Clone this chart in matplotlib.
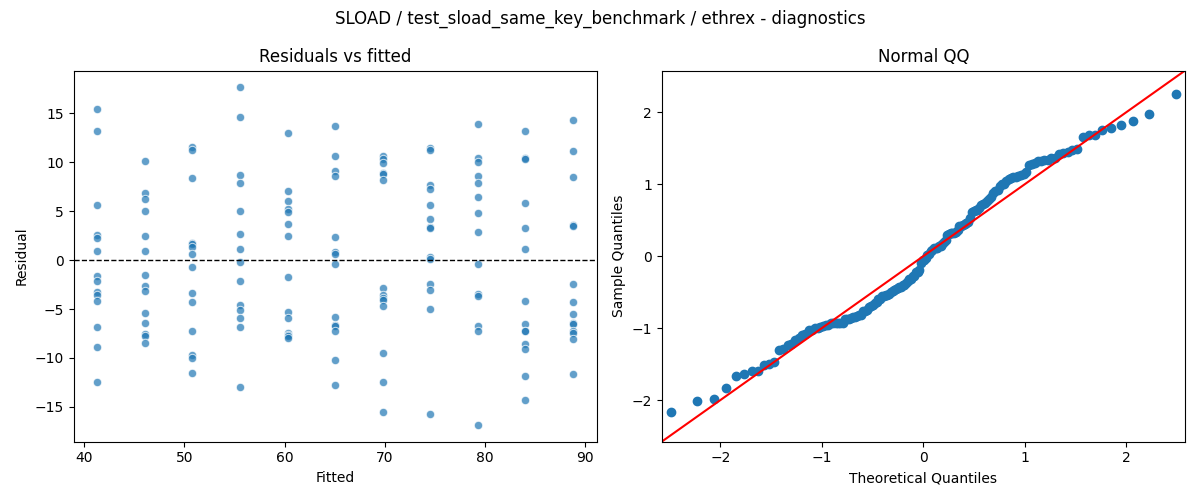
import matplotlib
matplotlib.use("Agg")
import matplotlib.pyplot as plt
import numpy as np
from statistics import NormalDist

# fitted levels (one per benchmark size)
fitted_levels = [41.3, 46.1, 50.8, 55.5, 60.3, 65.0, 69.8, 74.5, 79.3, 84.0, 88.8]

res_41 = [15.41, 13.20, 5.65, 2.52, 2.28, 0.95, -1.67, -2.11, -3.30, -3.57, -4.15, -6.80, -8.84, -12.41]
res_46 = [10.14, 6.87, 6.26, 5.03, 2.48, 0.95, -1.50, -2.69, -3.13, -5.37, -6.39, -7.55, -7.76, -8.47]
res_51 = [11.60, 11.22, 8.37, 1.80, 1.60, 1.33, 0.65, -0.71, -3.33, -4.29, -7.21, -9.66, -10.00, -11.50]
res_55 = [17.65, 14.63, 8.67, 7.86, 5.00, 2.69, 1.12, -0.20, -2.14, -4.59, -5.07, -5.92, -6.80, -12.93]
res_60 = [12.96, 7.04, 6.05, 5.20, 4.90, 3.71, 2.48, -1.73, -5.27, -5.92, -7.45, -7.65, -7.79, -7.99]
res_65 = [13.67, 10.61, 9.15, 8.57, 2.38, 0.85, 0.61, -0.41, -5.78, -6.60, -6.77, -7.24, -10.17, -12.72]
res_70 = [10.61, 10.31, 9.90, 8.95, 8.78, 8.16, -2.86, -3.61, -3.84, -4.05, -4.66, -9.49, -12.45, -15.51]
res_74 = [11.50, 11.26, 7.65, 7.24, 5.61, 4.18, 3.40, 3.27, 0.27, 0.10, -2.41, -3.06, -5.00, -15.68]
res_79 = [13.88, 10.41, 10.00, 8.61, 7.86, 6.43, 4.80, 2.86, -0.37, -3.44, -3.71, -6.73, -7.21, -16.84]
res_84 = [13.16, 10.41, 10.34, 5.82, 3.27, 1.12, -4.15, -6.53, -7.21, -7.28, -8.54, -9.05, -11.80, -14.25]
res_89 = [14.29, 11.12, 8.47, 3.61, 3.50, -2.41, -4.29, -5.51, -6.39, -6.50, -7.28, -7.45, -8.03, -11.63]

groups = [res_41, res_46, res_51, res_55, res_60, res_65, res_70, res_74, res_79, res_84, res_89]

fitted = np.concatenate([[f] * len(g) for f, g in zip(fitted_levels, groups)])
resid = np.concatenate(groups)

# qq: standardized sorted residuals vs normal quantiles i/(n+1)
n = len(resid)
sample_q = np.sort((resid - resid.mean()) / resid.std())
nd = NormalDist()
theo_q = np.array([nd.inv_cdf(i / (n + 1)) for i in range(1, n + 1)])

fig, (ax1, ax2) = plt.subplots(1, 2, figsize=(12, 5))

ax1.scatter(fitted, resid, s=36, color="C0", alpha=0.7, edgecolor="white", linewidth=0.75)
ax1.axhline(0, color="black", linestyle="--", linewidth=1)
ax1.set_title("Residuals vs fitted")
ax1.set_xlabel("Fitted")
ax1.set_ylabel("Residual")

ax2.plot(theo_q, sample_q, marker="o", linestyle="none", color="C0")
lim = (-2.58, 2.58)
ax2.plot(lim, lim, "r")
ax2.set_xlim(lim)
ax2.set_ylim(lim)
ax2.set_title("Normal QQ")
ax2.set_xlabel("Theoretical Quantiles")
ax2.set_ylabel("Sample Quantiles")

fig.suptitle("SLOAD / test_sload_same_key_benchmark / ethrex - diagnostics")
fig.tight_layout()
fig.savefig("out.png", dpi=100)
